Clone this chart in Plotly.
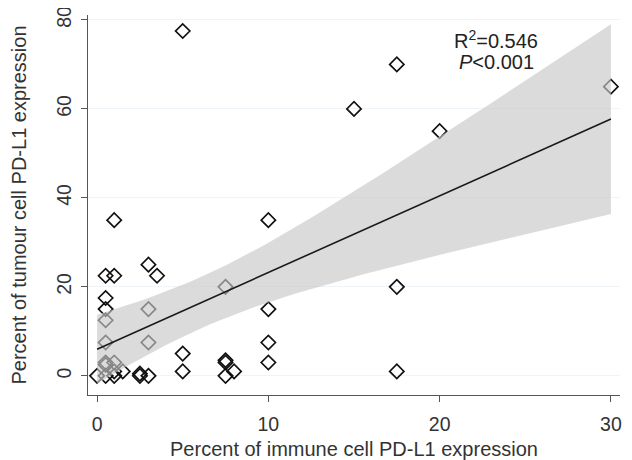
import numpy as np
import plotly.graph_objects as go

# immune cell PD-L1 (%) vs tumour cell PD-L1 (%)
immune_pct = [5, 17.5, 15, 20, 30, 10, 1, 3, 3.5, 0.5, 1, 7.5, 17.5, 0.5, 0.5, 3, 10,
              0.5, 0.5, 3, 10, 5, 0.5, 0.5, 1, 7.5, 7.5, 10, 1, 1.5, 17.5, 5, 8,
              0, 0.5, 1, 2.5, 2.5, 3, 7.5]
tumour_pct = [77.5, 70, 60, 55, 65, 35, 35, 25, 22.5, 22.5, 22.5, 20, 20, 17.5, 15, 15, 15,
              12.5, 7.5, 7.5, 7.5, 5, 3, 2.5, 3, 3.5, 3, 3, 1, 1, 1, 1, 1,
              0, 0, 0, 0.5, 0, 0, 0]
x_ticks = [0, 10, 20, 30]
y_ticks = [0, 20, 40, 60, 80]

x = np.array(immune_pct, dtype=float)
y = np.array(tumour_pct, dtype=float)
n = len(x)
b1, b0 = np.polyfit(x, y, 1)
resid = y - (b0 + b1 * x)
s = np.sqrt((resid ** 2).sum() / (n - 2))
sxx = ((x - x.mean()) ** 2).sum()
t = 2.024
xf = np.linspace(0, 30, 61)
yf = b0 + b1 * xf
se = s * np.sqrt(1 / n + (xf - x.mean()) ** 2 / sxx)
lo, hi = yf - t * se, yf + t * se

fig = go.Figure()
fig.add_trace(go.Scatter(x=x, y=y, mode="markers",
                         marker=dict(symbol="diamond-open", size=11, color="#111",
                                     line=dict(width=1.7, color="#111")),
                         showlegend=False))
fig.add_trace(go.Scatter(x=np.concatenate([xf, xf[::-1]]),
                         y=np.concatenate([hi, lo[::-1]]),
                         fill="toself", fillcolor="rgba(200,200,200,0.65)",
                         line=dict(width=0), mode="lines", showlegend=False,
                         hoverinfo="skip"))
fig.add_trace(go.Scatter(x=xf, y=yf, mode="lines",
                         line=dict(color="#1a1a1a", width=1.6), showlegend=False))

fig.add_annotation(x=23.3, y=75.6, text="R<sup>2</sup>=0.546", showarrow=False,
                   font=dict(size=20, color="#222"))
fig.add_annotation(x=23.3, y=70.6, text="<i>P</i><0.001", showarrow=False,
                   font=dict(size=20, color="#222"))

font = "Liberation Sans, Arial, sans-serif"
# page body has an 8px default margin, so the figure is sized/offset accordingly
fig.update_layout(
    width=624, height=452,
    margin=dict(l=80, r=12, t=7, b=65),
    paper_bgcolor="white", plot_bgcolor="white",
    font=dict(family=font, size=19.5, color="#333"),
    xaxis=dict(range=[-0.53, 30.53], tickvals=x_ticks, showgrid=False, zeroline=False,
               automargin=False, ticklabeloverflow="allow", ticklabelstandoff=5,
               showline=True, linecolor="#555", linewidth=1.2,
               ticks="outside", ticklen=6, tickcolor="#555",
               title=dict(text="Percent of immune cell PD-L1 expression", standoff=8,
                          font=dict(size=20))),
    yaxis=dict(range=[-4.3, 81.1], tickvals=y_ticks, tickangle=-90,
               showgrid=True, gridcolor="#eef4f7", gridwidth=1, zeroline=False,
               automargin=False, ticklabeloverflow="allow", ticklabelstandoff=2,
               showline=True, linecolor="#555", linewidth=1.2,
               ticks="outside", ticklen=6, tickcolor="#555",
               title=dict(text="Percent of tumour cell PD-L1 expression", standoff=25,
                          font=dict(size=20))),
)
fig.write_html("out.html")
